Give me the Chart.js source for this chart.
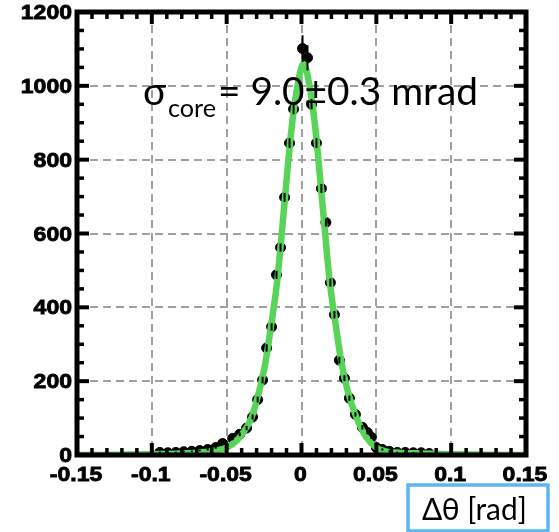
<!DOCTYPE html>
<html><head><meta charset="utf-8">
<script src="https://cdn.jsdelivr.net/npm/chart.js@4/dist/chart.umd.min.js"></script>
<style>html,body{margin:0;padding:0;background:#fff;}#wrap{width:559px;height:532px;position:relative;}</style>
</head><body><div id="wrap"><canvas id="c" width="559" height="532"></canvas></div>
<script>
const xTickValues = [-0.15, -0.1, -0.05, 0, 0.05, 0.1, 0.15];
const xTickLabels = ["-0.15", "-0.1", "-0.05", "0", "0.05", "0.1", "0.15"];
const yTickValues = [0, 200, 400, 600, 800, 1000, 1200];
const yTickLabels = ["0", "200", "400", "600", "800", "1000", "1200"];

const dataX = [-0.0947,-0.0893,-0.084,-0.0787,-0.0733,-0.068,-0.0627,-0.0573,-0.0527,-0.046,-0.0413,-0.0367,-0.0327,-0.0293,-0.026,-0.0233,-0.02,-0.0167,-0.014,-0.0113,-0.008,-0.0053,0.0007,0.004,0.0067,0.01,0.0133,0.0163,0.0193,0.022,0.0253,0.0287,0.032,0.036,0.0407,0.044,0.0467,0.05,0.054,0.0587,0.064,0.0693,0.0747,0.08,0.0853];
const dataY = [7,6,7,9,10,12,15,20,31,45,56,73,103,150,203,290,347,488,562,698,845,937,1101,1076,950,845,722,630,467,380,257,208,154,110,75,61,48,20,15,10,7,7,6,6,4];
const dataErr = [2,2,2,2,2,2,3,3,4,5,5,6,7,8,9,10,10,11,11,12,13,14,36,34,14,13,12,11,11,10,9,8,7,6,6,5,5,3,3,2,2,2,2,2,2];

const fitX = [-0.15,-0.12,-0.1,-0.08,-0.07,-0.06,-0.0513,-0.046,-0.0413,-0.0333,-0.0281,-0.0241,-0.0207,-0.0161,-0.0114,-0.0067,-0.0033,0.0013,0.006,0.0093,0.014,0.0187,0.0233,0.0267,0.0307,0.0367,0.0433,0.05,0.056,0.065,0.08,0.1,0.12,0.15];
const fitY = [0,1,2,4,6,10,18,30,48,102,176,250,340,476,680,883,985,1060,985,883,680,476,340,250,176,102,48,20,10,6,4,2,1,0];

const TICK_FONT = 'bold 19.5px "Liberation Sans", Arial, sans-serif';

const decor = {
  id: 'decor',
  afterDatasetsDraw(chart) {
    const ctx = chart.ctx;
    const xs = chart.scales.x, ys = chart.scales.y;
    ctx.save();
    ctx.strokeStyle = '#000'; ctx.lineWidth = 2;
    for (let i = 0; i < dataX.length; i++) {
      const px = xs.getPixelForValue(dataX[i]);
      ctx.beginPath();
      ctx.moveTo(px, ys.getPixelForValue(dataY[i] - dataErr[i]));
      ctx.lineTo(px, ys.getPixelForValue(dataY[i] + dataErr[i]));
      ctx.stroke();
    }
    ctx.restore();
  },
  afterDraw(chart) {
    const ctx = chart.ctx;
    const {left, right, top, bottom} = chart.chartArea;
    const xs = chart.scales.x, ys = chart.scales.y;
    ctx.save();
    ctx.strokeStyle = '#000';
    const line = (a, b, c, d) => { ctx.beginPath(); ctx.moveTo(a, b); ctx.lineTo(c, d); ctx.stroke(); };
    for (let i = -15; i <= 15; i++) {
      const px = xs.getPixelForValue(i / 100);
      const major = i % 5 === 0;
      const len = major ? 12 : 7;
      ctx.lineWidth = major ? 4 : 3.5;
      line(px, bottom, px, bottom - len);
      line(px, top, px, top + len);
    }
    for (let v = 0; v <= 1200; v += 50) {
      const py = ys.getPixelForValue(v);
      const major = v % 200 === 0;
      const len = major ? 12 : 7;
      ctx.lineWidth = major ? 4 : 3.5;
      line(left, py, left + len, py);
      line(right, py, right - len, py);
    }
    ctx.lineWidth = 5;
    ctx.strokeRect(left, top, right - left, bottom - top);

    ctx.fillStyle = '#000';
    ctx.strokeStyle = '#000';
    ctx.lineWidth = 0.8;
    ctx.font = TICK_FONT;
    const sx = 1.18;
    ctx.textAlign = 'right';
    ctx.textBaseline = 'alphabetic';
    yTickValues.forEach((v, i) => {
      const py = ys.getPixelForValue(v);
      ctx.save(); ctx.translate(72, py + 7); ctx.scale(sx, 1);
      ctx.fillText(yTickLabels[i], 0, 0); ctx.strokeText(yTickLabels[i], 0, 0); ctx.restore();
    });
    ctx.textAlign = 'center';
    xTickValues.forEach((v, i) => {
      const px = xs.getPixelForValue(v);
      ctx.save(); ctx.translate(px - 1, 481); ctx.scale(sx, 1);
      ctx.fillText(xTickLabels[i], 0, 0); ctx.strokeText(xTickLabels[i], 0, 0); ctx.restore();
    });

    ctx.textAlign = 'left';
    const fam = 'Lato, "Open Sans", sans-serif';
    const mainStr = '= 9.0\u00b10.3 mrad';
    ctx.font = '36px ' + fam;
    let w = ctx.measureText(mainStr).width;
    let fs = 36 * 260 / w;
    ctx.font = fs.toFixed(1) + 'px ' + fam;
    ctx.fillText('\u03c3', 143, 105);
    ctx.fillText(mainStr, 218, 105);
    ctx.font = '22px ' + fam;
    w = ctx.measureText('core').width;
    ctx.font = (22 * 48 / w).toFixed(1) + 'px ' + fam;
    ctx.fillText('core', 168, 117);

    ctx.strokeStyle = '#5cb6f2';
    ctx.lineWidth = 3.5;
    ctx.strokeRect(408, 485, 140, 46);
    const tStr = '\u0394\u03b8 [rad]';
    ctx.font = '28px ' + fam;
    w = ctx.measureText(tStr).width;
    ctx.font = (28 * 105 / w).toFixed(1) + 'px ' + fam;
    ctx.fillStyle = '#000';
    ctx.fillText(tStr, 422, 520);
    ctx.restore();
  }
};

new Chart(document.getElementById('c'), {
  type: 'scatter',
  data: {
    datasets: [
      {
        label: 'fit',
        data: fitX.map((x, i) => ({x, y: fitY[i]})),
        showLine: true,
        borderColor: '#58d458',
        borderWidth: 6.5,
        pointRadius: 0,
        cubicInterpolationMode: 'monotone',
        order: 0
      },
      {
        label: 'data',
        data: dataX.map((x, i) => ({x, y: dataY[i]})),
        showLine: false,
        backgroundColor: '#000',
        borderColor: '#000',
        pointRadius: 5,
        order: 1
      }
    ]
  },
  options: {
    responsive: false,
    animation: false,
    devicePixelRatio: 1,
    layout: {padding: {left: 0, top: 12, right: 33, bottom: 0}},
    plugins: {legend: {display: false}, tooltip: {enabled: false}},
    scales: {
      x: {
        type: 'linear', min: -0.15, max: 0.15,
        afterBuildTicks: s => { s.ticks = xTickValues.map(v => ({value: v})); },
        afterFit: s => { s.height = 77; },
        ticks: {display: false},
        border: {display: false, dash: [8, 5]},
        grid: {color: '#a0a0a0', lineWidth: 2, tickLength: 0, drawTicks: false},
      },
      y: {
        type: 'linear', min: 0, max: 1200,
        afterBuildTicks: s => { s.ticks = yTickValues.map(v => ({value: v})); },
        afterFit: s => { s.width = 77; },
        ticks: {display: false},
        border: {display: false, dash: [8, 5]},
        grid: {color: '#a0a0a0', lineWidth: 2, tickLength: 0, drawTicks: false},
      }
    }
  },
  plugins: [decor]
});
</script>
</body></html>
